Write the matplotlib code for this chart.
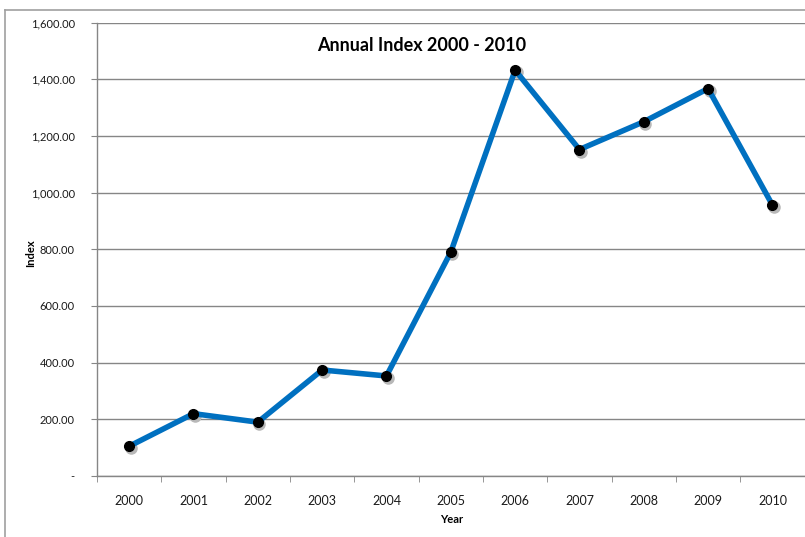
import matplotlib.pyplot as plt
import matplotlib.transforms as mtransforms
from matplotlib.lines import Line2D
from matplotlib.ticker import FuncFormatter, FixedLocator

plt.rcParams['font.family'] = ['Lato', 'DejaVu Sans']

years = ['2000', '2001', '2002', '2003', '2004', '2005',
         '2006', '2007', '2008', '2009', '2010']
index_vals = [105, 220, 190, 374, 353, 790, 1432, 1152, 1250, 1367, 956]

fig = plt.figure(figsize=(8.05, 5.37), dpi=100)
ax = fig.add_axes([0.1205, 0.1136, 0.879, 0.8444])

x = list(range(len(years)))

# shadow under the markers
shadow = mtransforms.offset_copy(ax.transData, fig=fig, x=1.5, y=-2.0, units='dots')
ax.plot(x, index_vals, 'o', color='#b8b8b8', markersize=8, transform=shadow, zorder=2)
ax.plot(x, index_vals, '-', color='#0070c0', linewidth=4, zorder=3, solid_capstyle='round')
ax.plot(x, index_vals, 'o', color='black', markersize=7, zorder=4)

ax.set_xlim(-0.5, len(years) - 0.5)
ax.set_ylim(0, 1600)

ax.set_xticks(x)
ax.set_xticklabels(years, fontsize=9, color='#1a1a1a')
ax.xaxis.set_minor_locator(FixedLocator([i - 0.5 for i in range(len(years) + 1)]))
ax.tick_params(axis='x', which='major', length=0, pad=14)
ax.tick_params(axis='x', which='minor', length=4, color='#868686', direction='out')

ax.set_yticks(range(0, 1601, 200))
ax.yaxis.set_major_formatter(FuncFormatter(lambda v, p: '-' if v == 0 else f'{v:,.2f}'))
ax.tick_params(axis='y', labelsize=8, colors='#1a1a1a', length=4, pad=12)
ax.tick_params(axis='y', color='#868686')

ax.grid(axis='y', color='#868686', linewidth=1)
ax.set_axisbelow(True)
for s in ['top', 'right']:
    ax.spines[s].set_visible(False)
for s in ['left', 'bottom']:
    ax.spines[s].set_color('#868686')
    ax.spines[s].set_linewidth(1)

fig.text(0.5236, 0.916, 'Annual Index 2000 - 2010', ha='center', va='center',
         fontsize=13, fontweight='bold')
fig.text(0.038, 0.529, 'Index', rotation=90, ha='center', va='center',
         fontsize=8, fontweight='bold')
fig.text(0.561, 0.032, 'Year', ha='center', va='center',
         fontsize=8, fontweight='bold')

# outer chart border (left and top visible)
fig.add_artist(Line2D([0.0068, 0.0068], [0.0, 0.981], color='#a0a0a0', linewidth=1.2,
                      transform=fig.transFigure))
fig.add_artist(Line2D([0.0068, 1.0], [0.981, 0.981], color='#a0a0a0', linewidth=1.2,
                      transform=fig.transFigure))

fig.savefig('out.png', dpi=100)
